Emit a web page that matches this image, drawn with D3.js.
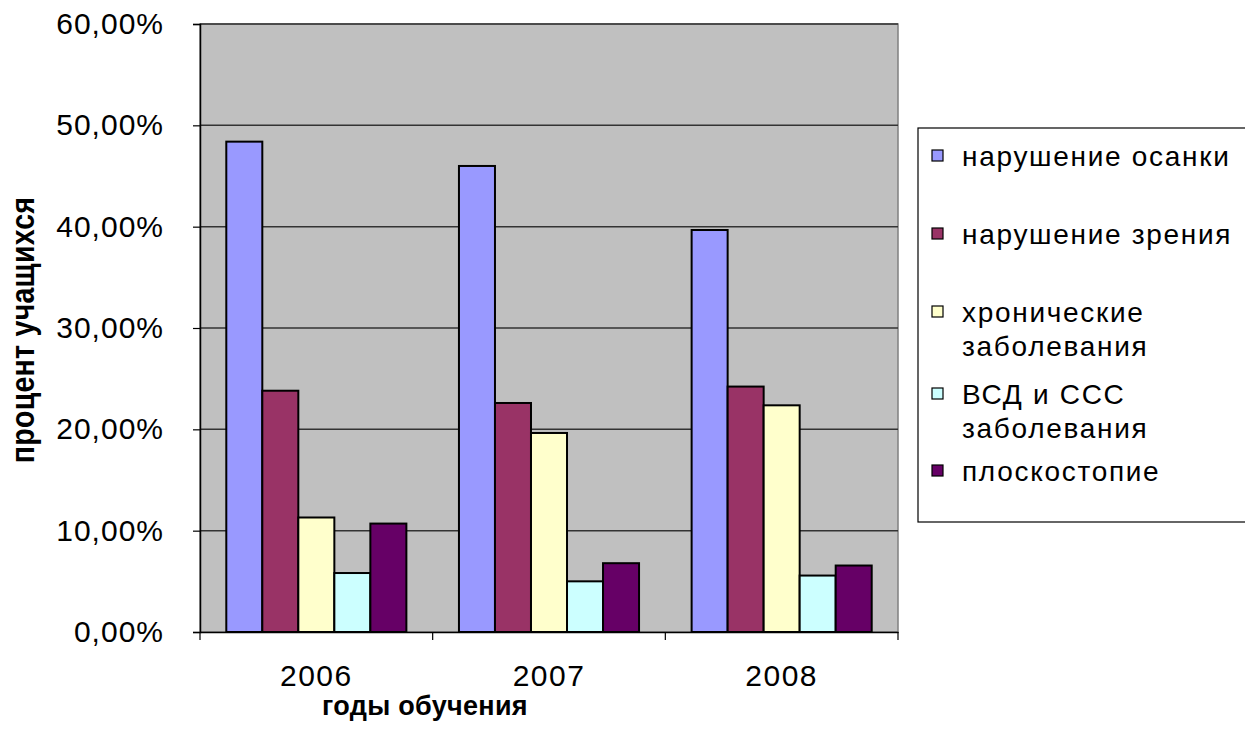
<!DOCTYPE html>
<html><head><meta charset="utf-8">
<script src="https://cdn.jsdelivr.net/npm/d3@7"></script>
<style>body{margin:0;background:#fff}svg{display:block}</style>
</head><body>
<svg id="c" width="1245" height="742"></svg>
<script>
const categories = ["2006", "2007", "2008"];
const seriesNames = ["нарушение осанки", "нарушение зрения", "хронические заболевания", "ВСД и ССС заболевания", "плоскостопие"];
const legendLines = [["нарушение осанки"], ["нарушение зрения"], ["хронические", "заболевания"], ["ВСД и ССС", "заболевания"], ["плоскостопие"]];
const posture = [0.4839, 0.4599, 0.3967];
const vision = [0.2381, 0.2260, 0.2422];
const chronic = [0.1130, 0.1964, 0.2237];
const vsd = [0.0582, 0.0500, 0.0557];
const flatfoot = [0.1070, 0.0679, 0.0656];
const yTicks = [0, 0.1, 0.2, 0.3, 0.4, 0.5, 0.6];
const colors = ["#9999FF", "#993366", "#FFFFCC", "#CCFFFF", "#660066"];
const seriesValues = [posture, vision, chronic, vsd, flatfoot];

const FONT = "Liberation Sans, Arial, sans-serif";
const svg = d3.select("#c");
const L = 200, R = 898, T = 24, B = 632;
const x = d3.scaleBand().domain(categories).range([L, R]).paddingInner(0.226).paddingOuter(0.113);
const xs = d3.scaleBand().domain(d3.range(seriesNames.length)).range([0, x.bandwidth()]);
const y = d3.scaleLinear().domain([0, 0.6]).range([B, T]);
const loc = d3.formatLocale({decimal: ",", thousands: " ", grouping: [3], currency: ["", ""]});
const fmt = loc.format(".2%");

svg.append("rect").attr("x", L).attr("y", T).attr("width", R - L).attr("height", B - T)
  .attr("fill", "#C0C0C0").attr("stroke", "#808080").attr("stroke-width", 1.5);

svg.append("g").selectAll("line").data(yTicks.slice(1)).join("line")
  .attr("x1", L).attr("x2", R).attr("y1", d => y(d)).attr("y2", d => y(d))
  .attr("stroke", "#333").attr("stroke-width", 1.5);

const data = [];
categories.forEach((c, i) => seriesValues.forEach((s, j) => data.push({c, j, v: s[i]})));
svg.append("g").selectAll("rect").data(data).join("rect")
  .attr("x", d => x(d.c) + xs(d.j)).attr("width", xs.bandwidth())
  .attr("y", d => y(d.v)).attr("height", d => B - y(d.v))
  .attr("fill", d => colors[d.j]).attr("stroke", "#000").attr("stroke-width", 2);

// Y axis
const ya = svg.append("g").attr("transform", `translate(${L},0)`)
  .call(d3.axisLeft(y).tickValues(yTicks).tickFormat(fmt).tickSize(7).tickPadding(29));
ya.select(".domain").attr("stroke", "#000").attr("stroke-width", 1.5);
ya.selectAll(".tick line").attr("stroke", "#000").attr("stroke-width", 1.2);
ya.selectAll("text").attr("font-family", FONT).attr("font-size", 30).attr("fill", "#000").attr("letter-spacing", 1);

// X axis
const xa = svg.append("g").attr("transform", `translate(0,${B})`)
  .call(d3.axisBottom(x).tickSize(0).tickPadding(33));
xa.select(".domain").attr("stroke", "#000").attr("stroke-width", 1.5);
xa.selectAll("text").attr("font-family", FONT).attr("font-size", 30).attr("fill", "#000").attr("letter-spacing", 1.5);
const bounds = [L, ...categories.slice(1).map(c => x(c) - x.step() * x.paddingInner() / 2), R];
svg.append("g").selectAll("line").data(bounds).join("line")
  .attr("x1", d => d).attr("x2", d => d).attr("y1", B).attr("y2", B + 8)
  .attr("stroke", "#000").attr("stroke-width", 1.2);

svg.append("text").attr("x", 425).attr("y", 715).attr("text-anchor", "middle")
  .attr("font-family", FONT).attr("font-weight", "bold")
  .attr("font-size", 27).attr("letter-spacing", 0.3).text("годы обучения");

svg.append("text").attr("transform", "translate(34,330) rotate(-90) scale(0.84,1)").attr("text-anchor", "middle")
  .attr("font-family", FONT).attr("font-weight", "bold")
  .attr("font-size", 34).attr("letter-spacing", 0.3).text("процент учащихся");

// Legend
svg.append("rect").attr("x", 918).attr("y", 128).attr("width", 340).attr("height", 394)
  .attr("fill", "#fff").attr("stroke", "#000").attr("stroke-width", 1.2);
const legendY = [157, 235, 313, 395, 472];
const lg = svg.append("g").selectAll("g").data(seriesNames).join("g")
  .attr("transform", (d, i) => `translate(0,${legendY[i]})`);
lg.append("rect").attr("x", 932).attr("y", -7).attr("width", 11).attr("height", 11)
  .attr("fill", (d, i) => colors[i]).attr("stroke", "#000").attr("stroke-width", 1.2);
lg.append("text").attr("x", 962).attr("y", 9)
  .attr("font-family", FONT).attr("font-size", 28).attr("letter-spacing", 1.7)
  .selectAll("tspan").data((d, i) => legendLines[i]).join("tspan")
  .attr("x", 962).attr("dy", (d, k) => k === 0 ? 0 : 34).text(d => d);
</script>
</body></html>
